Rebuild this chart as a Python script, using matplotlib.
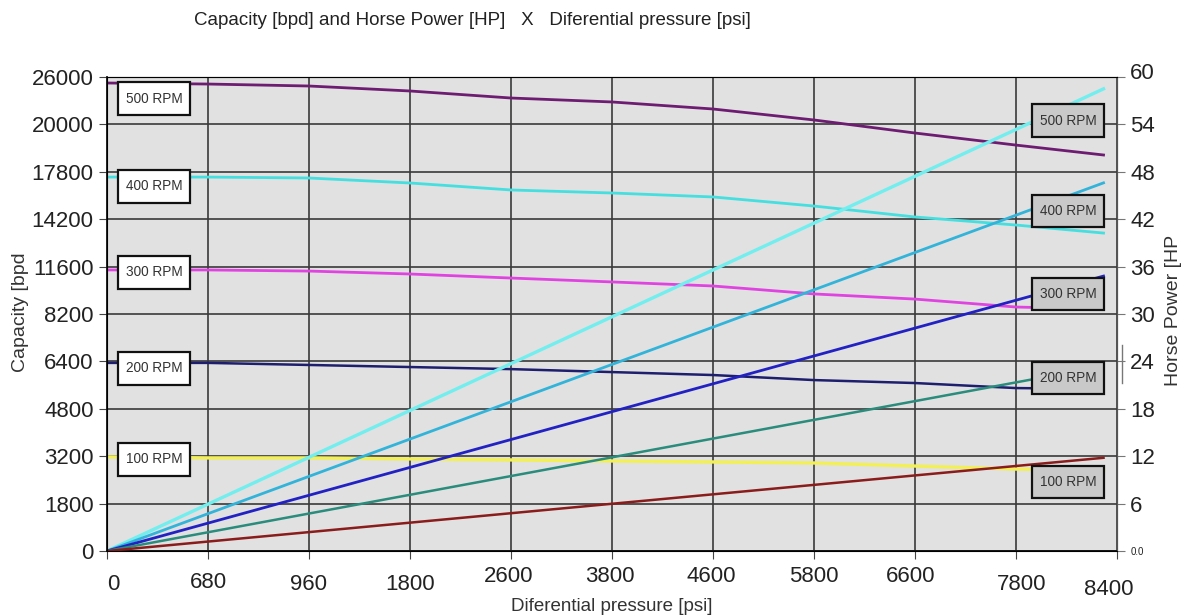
import matplotlib.pyplot as plt
import numpy as np
from matplotlib.patches import Rectangle
from matplotlib.transforms import ScaledTranslation

plt.rcParams['font.family'] = ['Liberation Sans', 'DejaVu Sans']

# axis tick values (the original chart spaces them evenly)
psi_ticks = [0, 680, 960, 1800, 2600, 3800, 4600, 5800, 6600, 7800, 8400]
bpd_ticks = [0, 1800, 3200, 4800, 6400, 8200, 11600, 14200, 17800, 20000, 26000]
hp_ticks = [0, 6, 12, 18, 24, 30, 36, 42, 48, 54, 60]
hp_tick_labels = ['0.0', '6', '12', '18', '24', '30', '36', '42', '48', '54', '60']

# capacity curves [bpd] read at the grid lines
psi = [0, 680, 960, 1800, 2600, 3800, 4600, 5800, 6600, 7800, 8320]
cap_500 = [25240, 25110, 24860, 24230, 23340, 22840, 21950, 20560, 19600, 19040, 18580]
cap_400 = [17400, 17400, 17330, 16950, 16420, 16190, 15890, 15200, 14370, 13880, 13440]
cap_300 = [11360, 11360, 11280, 11070, 10780, 10500, 10210, 9640, 9270, 8700, 8560]
cap_200 = [6350, 6350, 6280, 6210, 6140, 6040, 5940, 5770, 5670, 5500, 5470]
cap_100 = [3180, 3150, 3150, 3120, 3090, 3060, 3030, 3000, 2910, 2820, 2790]

# horse power lines [HP]
hp_psi = [0, 8320]
hp_500 = [0, 58.5]
hp_400 = [0, 46.6]
hp_300 = [0, 34.8]
hp_200 = [0, 23.4]
hp_100 = [0, 11.8]

rpm_labels = ['500 RPM', '400 RPM', '300 RPM', '200 RPM', '100 RPM']


def even_scale(ticks):
    idx = np.arange(len(ticks))
    fwd = lambda v: np.interp(v, ticks, idx)
    inv = lambda i: np.interp(i, idx, ticks)
    return fwd, inv


fig = plt.figure(figsize=(11.83, 6.16), dpi=100)
ax = fig.add_axes([0.0904, 0.1055, 0.8538, 0.7695])
ax.set_xscale('function', functions=even_scale(psi_ticks))
ax.set_yscale('function', functions=even_scale(bpd_ticks))
ax.set_xlim(0, 8400)
ax.set_ylim(0, 26000)
ax.set_facecolor('#e1e1e1')
ax.set_axisbelow(True)
ax.grid(True, color='#3a3a3a', lw=1.2)

ax.plot(psi, cap_500, color='#6e1c72', lw=2)
ax.plot(psi, cap_400, color='#45dfe0', lw=2)
ax.plot(psi, cap_300, color='#e044e0', lw=2)
ax.plot(psi, cap_200, color='#1e1e6e', lw=1.8)
ax.plot(psi, cap_100, color='#f2f055', lw=2.4)

ax.set_xticks(psi_ticks, [str(v) for v in psi_ticks])
ax.set_yticks(bpd_ticks, [str(v) for v in bpd_ticks])
ax.tick_params(axis='both', direction='out', length=6, color='#444444',
               labelsize=16, labelcolor='#222222')

# the x labels sit a bit uneven in the original
x_shift = [(6, -10), (0, -8), (0, -10), (0, -10), (-2, -2), (-2, -2),
           (-2, -2), (0, -2), (-4, -2), (6, -10), (-8, -15)]
for lab, (dx, dy) in zip(ax.get_xticklabels(), x_shift):
    lab.set_transform(lab.get_transform() +
                      ScaledTranslation(dx / 100, dy / 100, fig.dpi_scale_trans))

for side in ['left', 'bottom']:
    ax.spines[side].set_color('#111111')
    ax.spines[side].set_linewidth(1.3)
for side in ['top', 'right']:
    ax.spines[side].set_color('#555555')

ax2 = ax.twinx()
ax2.set_ylim(0, 60)
ax2.plot(hp_psi, hp_500, color='#72eeee', lw=2.4)
ax2.plot(hp_psi, hp_400, color='#32b4da', lw=2)
ax2.plot(hp_psi, hp_300, color='#2222c4', lw=2)
ax2.plot(hp_psi, hp_200, color='#2a8c7c', lw=1.8)
ax2.plot(hp_psi, hp_100, color='#8a1c1c', lw=1.8)
ax2.set_yticks(hp_ticks, hp_tick_labels)
ax2.tick_params(axis='y', direction='out', length=6, color='#777777',
                labelsize=16, labelcolor='#222222')
ax2.get_yticklabels()[0].set_fontsize(7)
top_lab = ax2.get_yticklabels()[-1]
top_lab.set_transform(top_lab.get_transform() +
                      ScaledTranslation(0, 0.06, fig.dpi_scale_trans))
ax2.spines['right'].set_color('#555555')
# stray tick bar beside 24 in the original
ax2.plot([1.005, 1.005], [0.354, 0.435], transform=ax2.transAxes,
         color='#777777', lw=1, clip_on=False)

# rpm label boxes
left_y = [0.9536, 0.770, 0.5886, 0.386, 0.194]
right_y = [0.9072, 0.7173, 0.5422, 0.365, 0.1456]
bw, bh = 0.0713, 0.0696
for txt, yl, yr in zip(rpm_labels, left_y, right_y):
    for x0, yc, fc in [(0.0109, yl, 'white'), (0.9158, yr, '#c9c9c9')]:
        ax2.add_patch(Rectangle((x0, yc - bh / 2), bw, bh, transform=ax2.transAxes,
                                fc=fc, ec='#111111', lw=1.6, zorder=10))
        ax2.text(x0 + bw / 2, yc, txt, transform=ax2.transAxes, ha='center',
                 va='center', fontsize=9.8, color='#333333', zorder=11)

fig.text(0.399, 0.967, 'Capacity [bpd] and Horse Power [HP]   X   Diferential pressure [psi]',
         ha='center', va='center', fontsize=13.5, color='#222222')
fig.text(0.517, 0.016, 'Diferential pressure [psi]', ha='center', va='center',
         fontsize=13.5, color='#333333')
fig.text(0.017, 0.494, 'Capacity [bpd', rotation=90, ha='center', va='center',
         fontsize=14, color='#333333')
fig.text(0.992, 0.496, 'Horse Power [HP', rotation=90, ha='center', va='center',
         fontsize=14, color='#333333')

fig.savefig('out.png', dpi=100)
